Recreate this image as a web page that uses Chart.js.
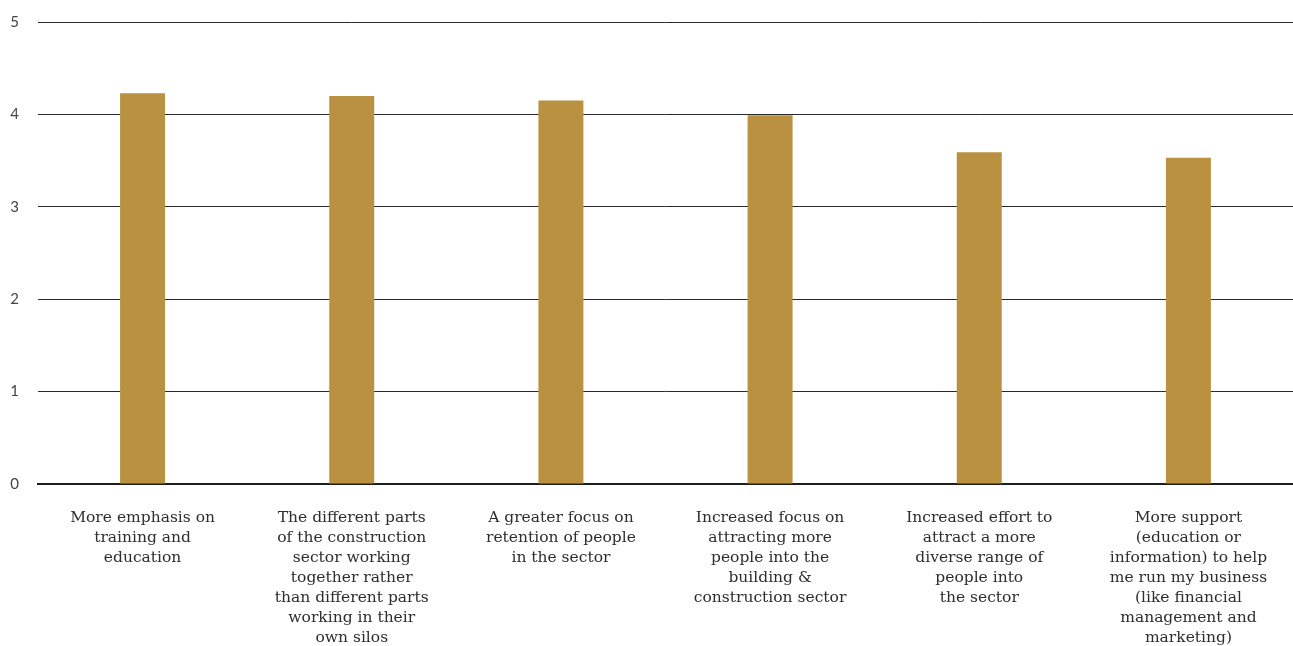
<!DOCTYPE html>
<html>
<head>
<meta charset="utf-8">
<script src="https://cdn.jsdelivr.net/npm/chart.js@4.4.0/dist/chart.umd.min.js"></script>
<style>
  html, body { margin: 0; padding: 0; background: #fff; }
  #wrap { width: 1293px; height: 646px; position: relative; }
</style>
</head>
<body>
<div id="wrap"><canvas id="priorities"></canvas></div>
<script>
// wrapped category labels, one array entry per line
const categories = [
  ['More emphasis on', 'training and', 'education'],
  ['The different parts', 'of the construction', 'sector working', 'together rather', 'than different parts', 'working in their', 'own silos'],
  ['A greater focus on', 'retention of people', 'in the sector'],
  ['Increased focus on', 'attracting more', 'people into the', 'building &', 'construction sector'],
  ['Increased effort to', 'attract a more', 'diverse range of', 'people into', 'the sector'],
  ['More support', '(education or', 'information) to help', 'me run my business', '(like financial', 'management and', 'marketing)']
];
const scores = [4.23, 4.20, 4.15, 3.99, 3.59, 3.53];
const yTicks = [0, 1, 2, 3, 4, 5];

const gold = '#b99140';

const ctx = document.getElementById('priorities').getContext('2d');
new Chart(ctx, {
  type: 'bar',
  data: {
    labels: categories,
    datasets: [{
      data: scores,
      backgroundColor: gold,
      borderWidth: 0,
      barPercentage: 0.215,
      categoryPercentage: 1
    }]
  },
  options: {
    responsive: true,
    maintainAspectRatio: false,
    animation: false,
    layout: { padding: { top: 22, right: 0, bottom: 0, left: 0 } },
    plugins: {
      legend: { display: false },
      tooltip: { enabled: false }
    },
    scales: {
      x: {
        grid: { display: false, drawTicks: false },
        border: { display: true, color: '#1e1e1e', width: 2 },
        ticks: {
          color: '#2e2e2e',
          padding: 24,
          maxRotation: 0,
          autoSkip: false,
          font: { family: 'DejaVu Serif', size: 15.5, lineHeight: 1.29 }
        },
        afterFit: scale => { scale.height = 162; }
      },
      y: {
        min: 0,
        max: 5,
        afterBuildTicks: scale => { scale.ticks = yTicks.map(v => ({ value: v })); },
        grid: { color: '#2a2a2a', lineWidth: 1, drawTicks: false },
        border: { display: false },
        ticks: {
          color: '#444',
          padding: 19,
          font: { family: 'Lato', size: 15 }
        },
        // fixed gutter; drop the label overhang so the top line sits at the padding
        afterFit: scale => {
          scale.width = 38;
          scale.paddingTop = 0;
          scale.paddingBottom = 0;
        }
      }
    }
  }
});
</script>
</body>
</html>
